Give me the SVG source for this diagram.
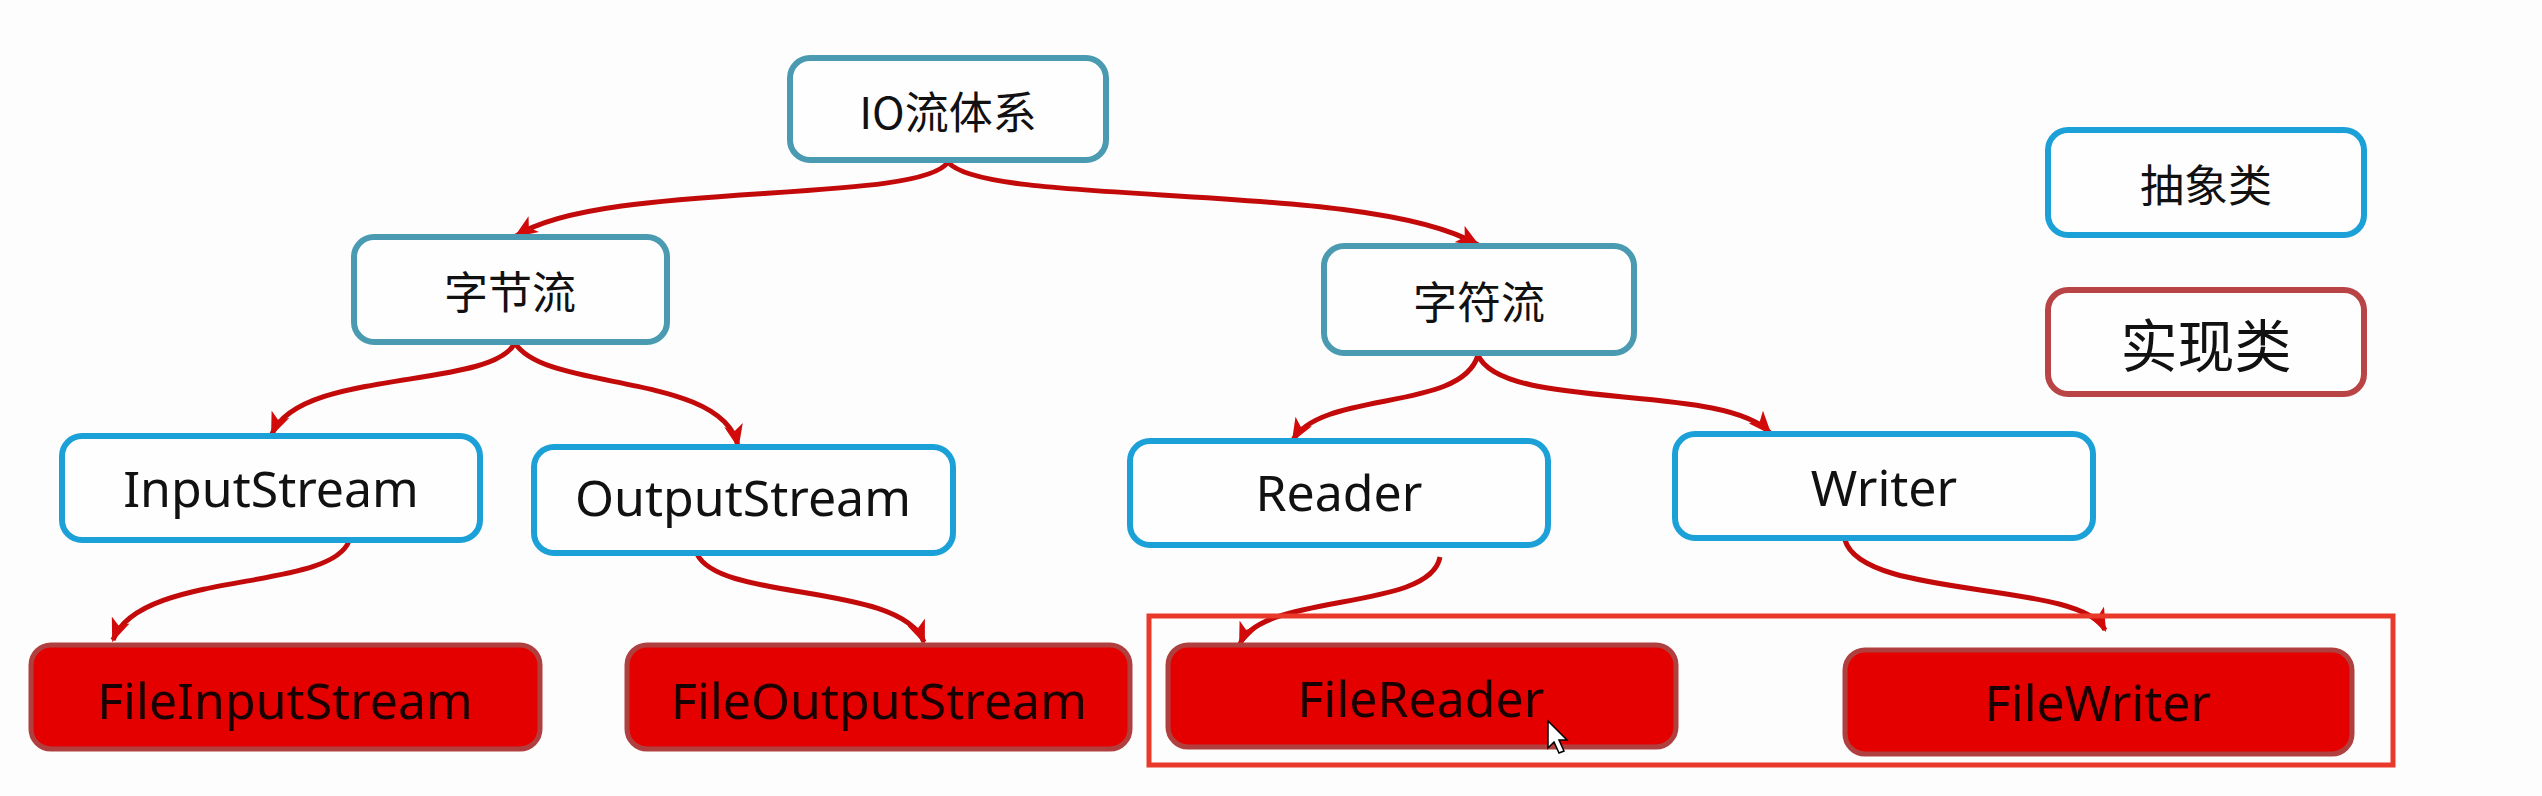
<svg xmlns="http://www.w3.org/2000/svg" width="2542" height="796" viewBox="0 0 2542 796">
<style>
.bg{fill:#fdfdfd}
.top{fill:#fefefe;stroke:#4a9bb1;stroke-width:6}
.abs{fill:#fefefe;stroke:#1ba0d8;stroke-width:6}
.impl{fill:#e50000;stroke:#b0403f;stroke-width:5}
.leg2{fill:#fefefe;stroke:#b84445;stroke-width:6}
.cn{font-family:"Noto Sans CJK SC","Noto Sans",sans-serif;font-size:44px;fill:#111;text-anchor:middle;dominant-baseline:central}
.en{font-family:"Noto Sans","Open Sans",sans-serif;font-size:50px;fill:#111;text-anchor:middle;dominant-baseline:central}
.enr{font-family:"Noto Sans","Open Sans",sans-serif;font-size:50px;fill:#1a0000;text-anchor:middle;dominant-baseline:central}
.edge{fill:none;stroke:#c30a0a;stroke-width:5;marker-end:url(#ah)}
</style>
<defs>
<marker id="ah" viewBox="0 0 20 16" refX="18" refY="8" markerWidth="24" markerHeight="19" markerUnits="userSpaceOnUse" orient="auto">
<path d="M0,0 L20,8 L0,16 L5,8 z" fill="#d20a0a"/>
</marker>
</defs>
<rect class="bg" x="0" y="0" width="2542" height="796"/>

<g id="connectors">
<path class="edge" d="M948 162 C920 205 600 180 516 236"/>
<path class="edge" d="M948 162 C985 208 1370 180 1478 245"/>
<path class="edge" d="M515 343 C490 390 300 368 272 434"/>
<path class="edge" d="M515 343 C545 392 722 372 738 446"/>
<path class="edge" d="M1478 355 C1462 412 1322 390 1293 440"/>
<path class="edge" d="M1478 355 C1502 412 1725 382 1770 433"/>
<path class="edge" d="M349 541 C330 592 140 570 113 640"/>
<path class="edge" d="M697 554 C720 602 900 582 924 642"/>
<path class="edge" d="M1440 557 C1430 612 1262 592 1240 644"/>
<path class="edge" d="M1845 540 C1862 600 2080 580 2105 630"/>
</g>

<rect id="frame" x="1149" y="616" width="1244" height="149" fill="none" stroke="#e8392a" stroke-width="5"/>

<g id="io"><rect class="top" x="790" y="58" width="316" height="102" rx="20"/><text class="cn" x="948" y="110">IO流体系</text></g>
<g id="byte"><rect class="top" x="354" y="237" width="313" height="105" rx="20"/><text class="cn" x="510" y="290">字节流</text></g>
<g id="char"><rect class="top" x="1324" y="246" width="310" height="107" rx="20"/><text class="cn" x="1479" y="300">字符流</text></g>

<g id="inputstream"><rect class="abs" x="62" y="436" width="418" height="104" rx="20"/><text class="en" x="271" y="488">InputStream</text></g>
<g id="outputstream"><rect class="abs" x="534" y="447" width="419" height="106" rx="20"/><text class="en" x="743" y="497">OutputStream</text></g>
<g id="reader"><rect class="abs" x="1130" y="441" width="418" height="104" rx="20"/><text class="en" x="1339" y="492">Reader</text></g>
<g id="writer"><rect class="abs" x="1675" y="434" width="418" height="104" rx="20"/><text class="en" x="1884" y="487">Writer</text></g>

<g id="fileinputstream"><rect class="impl" x="31" y="645" width="509" height="104" rx="20"/><text class="enr" x="285" y="700">FileInputStream</text></g>
<g id="fileoutputstream"><rect class="impl" x="627" y="645" width="503" height="104" rx="20"/><text class="enr" x="879" y="700">FileOutputStream</text></g>
<g id="filereader"><rect class="impl" x="1168" y="645" width="508" height="102" rx="20"/><text class="enr" x="1421" y="698">FileReader</text></g>
<g id="filewriter"><rect class="impl" x="1845" y="650" width="507" height="104" rx="20"/><text class="enr" x="2098" y="702">FileWriter</text></g>

<g id="legend-abstract"><rect class="abs" x="2048" y="130" width="316" height="105" rx="20"/><text class="cn" x="2206" y="183">抽象类</text></g>
<g id="legend-impl"><rect class="leg2" x="2048" y="290" width="316" height="104" rx="20"/><text class="cn" x="2206" y="342" style="font-size:57px">实现类</text></g>

<path id="cursor" d="M1548 721 L1548 748 L1554 742 L1559 753 L1564 751 L1559 740 L1567 740 Z" fill="#fff" stroke="#000" stroke-width="1.5"/>
</svg>
